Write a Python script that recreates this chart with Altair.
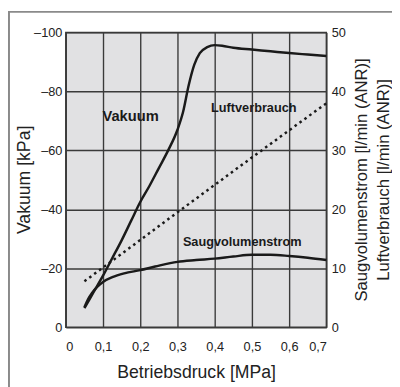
import altair as alt
import pandas as pd

# Vakuum [kPa] vs Betriebsdruck [MPa]
vak_x = [0.05, 0.075, 0.1, 0.125, 0.15, 0.175, 0.2, 0.225, 0.25, 0.275, 0.3, 0.315,
         0.33, 0.345, 0.36, 0.38, 0.4, 0.42, 0.45, 0.5, 0.55, 0.6, 0.65, 0.7]
vak_y = [-6.5, -12, -17.5, -23.5, -29.5, -36, -42.5, -48, -54, -60, -67, -73,
         -82, -89, -93, -95, -95.7, -95.5, -94.8, -94.2, -93.6, -93, -92.5, -92]

# Saugvolumenstrom [l/min (ANR)]
saug_x = [0.05, 0.06, 0.07, 0.085, 0.1, 0.125, 0.157, 0.2, 0.24, 0.3, 0.35, 0.4,
          0.45, 0.5, 0.55, 0.6, 0.65, 0.7]
saug_y = [3.4, 4.8, 5.8, 6.9, 7.7, 8.5, 9.15, 9.7, 10.3, 11.1, 11.4, 11.65,
          12.0, 12.3, 12.3, 12.1, 11.8, 11.4]

# Luftverbrauch [l/min (ANR)]
luft_x = [0.05, 0.2, 0.3, 0.5, 0.7]
luft_y = [7.8, 14.8, 19.5, 28.8, 38.0]

x_ticks = [0, 0.1, 0.2, 0.3, 0.4, 0.5, 0.6, 0.7]
left_ticks = [0, -20, -40, -60, -80, -100]
right_ticks = [0, 10, 20, 30, 40, 50]

rows = (
    [{"s": "vak", "p": a, "v": b, "q": None} for a, b in zip(vak_x, vak_y)]
    + [{"s": "saug", "p": a, "v": None, "q": b} for a, b in zip(saug_x, saug_y)]
    + [{"s": "luft", "p": a, "v": None, "q": b} for a, b in zip(luft_x, luft_y)]
)
df = pd.DataFrame(rows)

NARROW = "Liberation Sans Narrow, Arial Narrow, Liberation Sans"
SANS = "Liberation Sans, Arial"

x_axis = alt.Axis(
    values=x_ticks,
    title="Betriebsdruck [MPa]",
    labelExpr="datum.value == 0 ? '0' : replace(format(datum.value, '.1f'), '.', ',')",
    labelOverlap=False,
    grid=True,
    ticks=False,
    domain=False,
    labelPadding=14,
    titlePadding=10,
)
x_scale = alt.Scale(domain=[0, 0.7], nice=False)
x_enc = alt.X("p:Q", scale=x_scale, axis=x_axis)

v_scale = alt.Scale(domain=[0, -100], nice=False)
q_scale = alt.Scale(domain=[0, 50], nice=False)

left_axis = alt.Axis(
    values=left_ticks,
    title="Vakuum [kPa]",
    labelExpr="datum.value == 0 ? '0' : '\u2013' + abs(datum.value)",
    labelOverlap=False,
    grid=True,
    ticks=False,
    domain=False,
    labelPadding=4,
    titleX=-42,
    titleY=150,
    titleBaseline="middle",
)

right_axis = alt.Axis(
    values=right_ticks,
    orient="right",
    title=["Saugvolumenstrom [l/min (ANR)]", "Luftverbrauch [l/min (ANR)]"],
    titleAngle=270,
    titleLineHeight=22,
    titleFontSize=17,
    titleX=36,
    titleY=150,
    titleBaseline="middle",
    labelOverlap=False,
    grid=False,
    ticks=False,
    domain=False,
    labelPadding=5,
)

base = alt.Chart(df)

vak_line = base.transform_filter("datum.s == 'vak'").mark_line(
    color="#1a1a1a", strokeWidth=2.5, interpolate="monotone"
).encode(x=x_enc, y=alt.Y("v:Q", scale=v_scale, axis=left_axis))

saug_line = base.transform_filter("datum.s == 'saug'").mark_line(
    color="#1a1a1a", strokeWidth=2.5, interpolate="monotone"
).encode(x=x_enc, y=alt.Y("q:Q", scale=q_scale, axis=right_axis))

luft_line = base.transform_filter("datum.s == 'luft'").mark_line(
    color="#1a1a1a", strokeWidth=2.5, strokeDash=[2.6, 3.6]
).encode(x=x_enc, y=alt.Y("q:Q", scale=q_scale, axis=None))

labels = alt.Chart(pd.DataFrame({
    "p": [0.174, 0.505, 0.474],
    "v": [-71.5, -74.2, -29.0],
    "t": ["Vakuum", "Luftverbrauch", "Saugvolumenstrom"],
    "fs": [15, 13, 13],
})).mark_text(
    font=SANS, fontWeight="bold", color="#1a1a1a"
).encode(
    x=x_enc,
    y=alt.Y("v:Q", scale=v_scale, axis=None),
    text="t:N",
    size=alt.Size("fs:Q", scale=None, legend=None),
)

frame = alt.Chart(pd.DataFrame({"a": [0]})).mark_rect(
    filled=False, stroke="#8a8a8a", strokeWidth=2
).encode(
    x=alt.value(-58), x2=alt.value(600), y=alt.value(-21), y2=alt.value(600)
)

chart = alt.layer(
    vak_line, saug_line, luft_line, labels, frame,
).resolve_scale(y="independent").properties(
    width=266,
    height=301,
    background="white",
    autosize=alt.AutoSizeParams(type="none"),
    padding={"left": 59, "top": 21, "right": 67, "bottom": 58},
).configure_view(
    fill="#e1e1e3", stroke="#3a3a3a", strokeWidth=1.5
).configure_axis(
    labelFont=NARROW,
    labelFontSize=13,
    labelColor="#222222",
    titleFont=SANS,
    titleFontSize=18,
    titleFontWeight="normal",
    titleColor="#222222",
    gridColor="#3a3a3a",
    gridWidth=1.4,
    gridOpacity=1,
)

chart.save("out.html", embed_options={"renderer": "svg", "actions": False})
